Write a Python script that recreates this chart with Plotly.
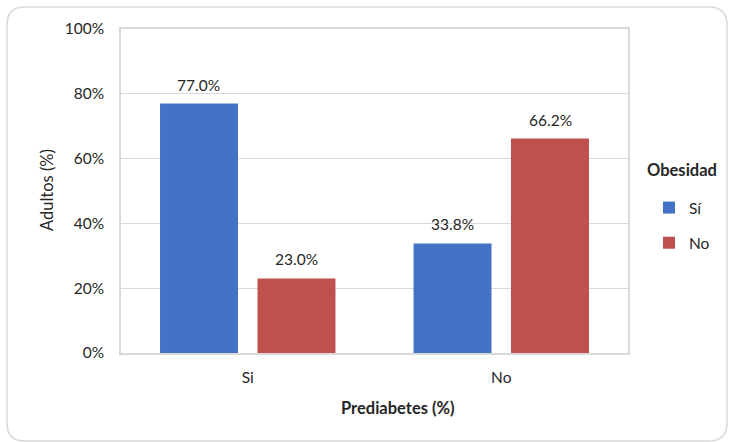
import plotly.graph_objects as go

categories = ["Si", "No"]
series_names = ["Sí", "No"]
values_si = [0.770, 0.338]
values_no = [0.230, 0.662]
colors = ["#4472C4", "#C0504D"]

W, H = 730, 442
L, R, T, B = 121, 102, 29, 89
pw, ph = W - L - R, H - T - B

def px(x):
    return (x - L) / pw

def py(y):
    return (H - B - y) / ph

fig = go.Figure()
series_vals = [values_si, values_no]
offsets = [-49, 49]
for i, (name, vals) in enumerate(zip(series_names, series_vals)):
    fig.add_trace(go.Bar(
        x=categories, y=vals, name=name, marker_color=colors[i],
        marker_line_width=0, legendgroup=f"g{i}", hoverinfo="x+y",
    ))

annotations = []
for i, vals in enumerate(series_vals):
    for c, v in zip(categories, vals):
        annotations.append(dict(
            x=c, y=v, xref="x", yref="y", text=f"{v*100:.1f}%", showarrow=False,
            xshift=offsets[i], yshift=8, yanchor="bottom", xanchor="center",
            font=dict(size=15.5, color="#262626")))

# rounded outer border
x0, y0, x1, y1, r = 7, 7, 727, 441, 18
path = (f"M {px(x0+r)},{py(y0)} L {px(x1-r)},{py(y0)} Q {px(x1)},{py(y0)} {px(x1)},{py(y0+r)} "
        f"L {px(x1)},{py(y1-r)} Q {px(x1)},{py(y1)} {px(x1-r)},{py(y1)} "
        f"L {px(x0+r)},{py(y1)} Q {px(x0)},{py(y1)} {px(x0)},{py(y1-r)} "
        f"L {px(x0)},{py(y0+r)} Q {px(x0)},{py(y0)} {px(x0+r)},{py(y0)} Z")

annotations += [
    dict(text="<b>Obesidad</b>", x=px(682), y=py(170), xref="paper", yref="paper",
         showarrow=False, font=dict(size=16.5), xanchor="center", yanchor="middle"),
    dict(text="<b>Prediabetes (%)</b>", x=px(398), y=py(408), xref="paper", yref="paper",
         showarrow=False, font=dict(size=16.5), xanchor="center", yanchor="middle"),
    dict(text="Adultos (%)", x=px(47), y=py(190), xref="paper", yref="paper",
         showarrow=False, font=dict(size=16.5), textangle=-90,
         xanchor="center", yanchor="middle"),
]

fig.update_layout(
    width=W, height=H,
    margin=dict(l=L, r=R, t=T, b=B),
    paper_bgcolor="white", plot_bgcolor="white",
    font=dict(family="Lato, Noto Sans, sans-serif", size=15.5, color="#262626"),
    barmode="group", bargap=0.231, bargroupgap=0.2,
    showlegend=True,
    legend=dict(x=px(649), y=py(191), xanchor="left", yanchor="top",
                font=dict(size=15.5), tracegroupgap=12, itemwidth=30,
                bgcolor="rgba(0,0,0,0)"),
    shapes=[dict(type="path", path=path, xref="paper", yref="paper",
                 line=dict(color="#D9D9D9", width=1.5), layer="below")],
    annotations=annotations,
)
fig.update_xaxes(showgrid=False, showline=True, linecolor="#D9D9D9", linewidth=1.5,
                 mirror=True, ticks="outside", ticklen=10, tickcolor="rgba(0,0,0,0)",
                 tickfont=dict(size=15.5))
fig.update_yaxes(range=[0, 1], dtick=0.2, tickformat=".0%", showgrid=True,
                 gridcolor="#D9D9D9", gridwidth=1, showline=True, linecolor="#D9D9D9",
                 linewidth=1.5, mirror=True, ticks="", tickfont=dict(size=15.5),
                 zeroline=False, ticksuffix="   ")
fig.write_html("out.html", config={"displayModeBar": False},
               post_script="document.body.style.margin='0';")
